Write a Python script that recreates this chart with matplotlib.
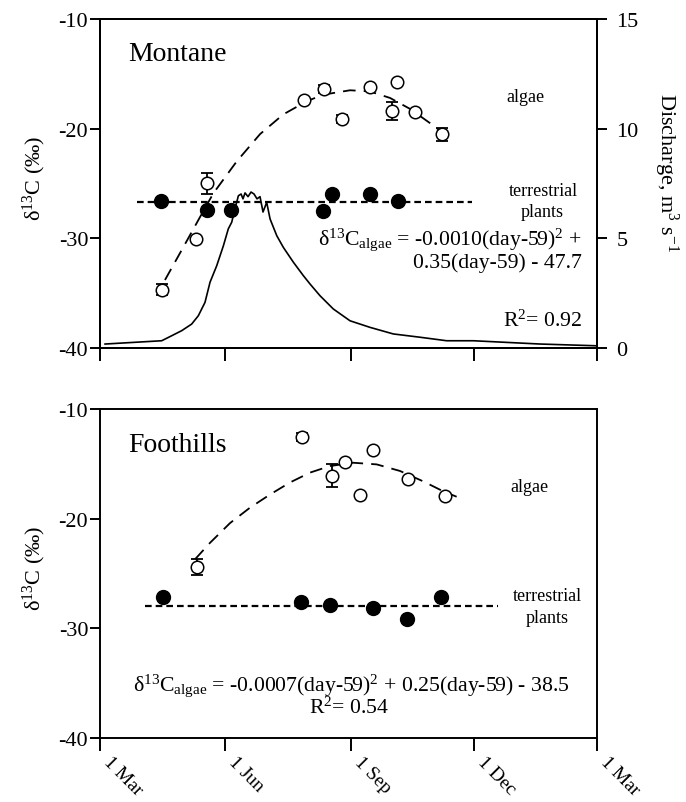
import numpy as np
import matplotlib
matplotlib.use('Agg')
import matplotlib.pyplot as plt

plt.rcParams['font.family'] = ['Liberation Serif', 'DejaVu Serif']
plt.rcParams['mathtext.fontset'] = 'custom'
plt.rcParams['mathtext.rm'] = 'Liberation Serif'
plt.rcParams['mathtext.it'] = 'Liberation Serif:italic'
plt.rcParams['axes.unicode_minus'] = False

# x axis in day of year (1 Mar = 60, next 1 Mar = 425)
TICK_DAYS   = [60, 152, 244, 335, 425]
TICK_LABELS = ['1 Mar', '1 Jun', '1 Sep', '1 Dec', '1 Mar']

# Montane
mon_alg_day = [105.3, 130.2, 138.8, 209.8, 224.5, 237.5, 258.2, 277.9, 274.2, 291.3, 310.9]
mon_alg_d13 = [-34.7, -30.05, -25.0, -17.4, -16.4, -19.1, -16.2, -15.75, -18.4, -18.5, -20.5]
mon_alg_err = [0.5, 0.0, 1.0, 0.0, 0.35, 0.35, 0.0, 0.0, 0.8, 0.0, 0.6]

# fitted quadratic
mon_fit_day = [107.7, 121.2, 134.6, 143.2, 160.3, 177.5, 194.6, 211.8, 224.0,
               243.6, 258.0, 273.0, 287.7, 302.4, 312.0]
mon_fit_d13 = [-33.8, -30.8, -27.8, -25.9, -23.0, -20.5, -18.7, -17.5, -16.9,
               -16.5, -16.6, -17.2, -18.2, -19.5, -20.4]

mon_ter_day = [104.8, 138.6, 156.2, 223.7, 230.6, 258.2, 278.8]
mon_ter_d13 = [-26.56, -27.4, -27.4, -27.47, -26.0, -26.0, -26.56]
mon_ter_line = [87, 333, -26.65]

dis_day = [63.7, 105.3, 112.7, 120.0, 127.3, 132.2, 137.1, 140.8, 145.7, 150.6,
           154.2, 156.7, 159.1, 161.6, 163.6, 165.0, 166.5, 168.7, 170.9, 173.1,
           175.3, 177.5, 179.7, 182.4, 184.9, 189.8, 194.6, 202.0, 209.3, 214.2,
           221.6, 231.3, 243.6, 258.3, 275.4, 295.0, 314.6, 334.2, 383.2, 424.8]
dis_q   = [0.18, 0.33, 0.56, 0.79, 1.09, 1.47, 2.08, 3.00, 3.75, 4.66,
           5.43, 5.73, 6.34, 6.94, 7.02, 6.80, 7.07, 6.90, 7.11, 7.02,
           6.80, 6.90, 6.20, 6.64, 5.88, 5.12, 4.59, 3.91, 3.30, 2.92,
           2.38, 1.78, 1.24, 0.94, 0.64, 0.49, 0.33, 0.33, 0.18, 0.10]

# Foothills
foo_alg_day = [131.4, 208.0, 230.0, 240.0, 250.9, 260.2, 286.4, 313.3]
foo_alg_d13 = [-24.43, -12.58, -16.1, -14.8, -17.84, -13.7, -16.4, -17.96]
foo_alg_err = [0.75, 0.35, 1.05, 0.0, 0.0, 0.0, 0.0, 0.0]

foo_fit_day = [129.8, 140.8, 155.5, 170.1, 184.8, 199.5, 214.2, 228.9, 246.0,
               263.2, 280.3, 297.4, 312.0, 321.9]
foo_fit_d13 = [-23.7, -22.2, -20.4, -19.0, -17.8, -16.7, -15.8, -15.2, -14.9,
               -15.05, -15.65, -16.6, -17.5, -18.0]

foo_ter_day = [106.5, 207.4, 228.9, 260.6, 285.2, 310.1]
foo_ter_d13 = [-27.17, -27.62, -27.87, -28.14, -29.14, -27.17]
foo_ter_line = [93, 352, -28.0]

FS = 16


def style_axis(ax, labels=True):
    ax.set_xlim(60, 425)
    ax.set_ylim(-40, -10)
    ax.set_yticks([-10, -20, -30, -40])
    ax.set_xticks(TICK_DAYS)
    if labels:
        ax.set_xticklabels(TICK_LABELS, rotation=-45, ha='left', va='top')
    else:
        ax.set_xticklabels([])
    ax.tick_params(axis='y', direction='out', length=7, width=1.4,
                   labelsize=FS, pad=1.5)
    ax.tick_params(axis='x', direction='out', length=9, width=1.4,
                   labelsize=14, pad=2)
    for sp in ax.spines.values():
        sp.set_linewidth(1.4)
    ax.set_ylabel('δ$^{13}$C (‰)', fontsize=FS)
    ax.yaxis.set_label_coords(-0.104, 0.52)


def draw_panel(ax, a_day, a_d13, a_err, f_day, f_d13, t_day, t_d13, t_line):
    ax.plot(f_day, f_d13, color='k', lw=1.3, linestyle=(0, (7, 4.5)), zorder=2)
    ax.plot([t_line[0], t_line[1]], [t_line[2], t_line[2]], color='k',
            lw=1.6, linestyle=(0, (3, 1.8)), zorder=2)

    a_day = np.array(a_day)
    a_d13 = np.array(a_d13)
    a_err = np.array(a_err)
    m = a_err > 0
    ax.errorbar(a_day[m], a_d13[m], yerr=a_err[m], fmt='none', ecolor='k',
                elinewidth=1.3, capsize=4.5, capthick=1.3, zorder=3)
    ax.plot(a_day, a_d13, 'o', ms=9, mfc='white', mec='k', mew=1.1, zorder=4)
    ax.plot(t_day, t_d13, 'o', ms=10, mfc='k', mec='k', zorder=4)


fig = plt.figure(figsize=(6.86, 8.03), dpi=100)
ax1 = fig.add_axes([0.1458, 0.5654, 0.7245, 0.4097])
ax2 = fig.add_axes([0.1458, 0.0797, 0.7245, 0.4097])

# ---- Montane
draw_panel(ax1, mon_alg_day, mon_alg_d13, mon_alg_err, mon_fit_day, mon_fit_d13,
           mon_ter_day, mon_ter_d13, mon_ter_line)
style_axis(ax1, labels=False)

axq = ax1.twinx()
axq.plot(dis_day, dis_q, color='k', lw=1.2)
axq.set_ylim(0, 15)
axq.set_yticks([0, 5, 10, 15])
axq.tick_params(axis='y', direction='out', length=7, width=1.4,
                labelsize=FS, pad=7)
axq.set_ylabel('Discharge, m$^3$ s$^{-1}$', fontsize=FS, rotation=270,
               va='bottom')
axq.yaxis.set_label_coords(1.110, 0.535)
for sp in axq.spines.values():
    sp.set_linewidth(1.4)

EQ_FS = 15.7
ax1.text(0.056, 0.875, 'Montane', transform=ax1.transAxes, fontsize=20,
         va='baseline')
ax1.text(0.855, 0.763, 'algae', transform=ax1.transAxes, fontsize=13,
         ha='center', va='center')
ax1.text(0.893, 0.480, 'terrestrial', transform=ax1.transAxes, fontsize=13,
         ha='center', va='center')
ax1.text(0.889, 0.416, 'plants', transform=ax1.transAxes, fontsize=13,
         ha='center', va='center')
ax1.text(0.970, 0.316, 'δ$^{13}$C$_{\\mathrm{algae}}$ = -0.0010(day-59)$^2$ +',
         transform=ax1.transAxes, fontsize=EQ_FS, ha='right', va='baseline')
ax1.text(0.970, 0.246, '0.35(day-59) - 47.7', transform=ax1.transAxes,
         fontsize=EQ_FS, ha='right', va='baseline')
ax1.text(0.970, 0.068, 'R$^2$= 0.92', transform=ax1.transAxes, fontsize=EQ_FS,
         ha='right', va='baseline')

# ---- Foothills
draw_panel(ax2, foo_alg_day, foo_alg_d13, foo_alg_err, foo_fit_day, foo_fit_d13,
           foo_ter_day, foo_ter_d13, foo_ter_line)
style_axis(ax2, labels=True)

ax2.text(0.056, 0.873, 'Foothills', transform=ax2.transAxes, fontsize=20,
         va='baseline')
ax2.text(0.865, 0.763, 'algae', transform=ax2.transAxes, fontsize=13,
         ha='center', va='center')
ax2.text(0.900, 0.432, 'terrestrial', transform=ax2.transAxes, fontsize=13,
         ha='center', va='center')
ax2.text(0.900, 0.365, 'plants', transform=ax2.transAxes, fontsize=13,
         ha='center', va='center')
ax2.text(0.505, 0.146,
         'δ$^{13}$C$_{\\mathrm{algae}}$ = -0.0007(day-59)$^2$ + 0.25(day-59) - 38.5',
         transform=ax2.transAxes, fontsize=EQ_FS, ha='center', va='baseline')
ax2.text(0.501, 0.076, 'R$^2$= 0.54', transform=ax2.transAxes, fontsize=EQ_FS,
         ha='center', va='baseline')

fig.savefig('out.png', dpi=100, facecolor='white')
